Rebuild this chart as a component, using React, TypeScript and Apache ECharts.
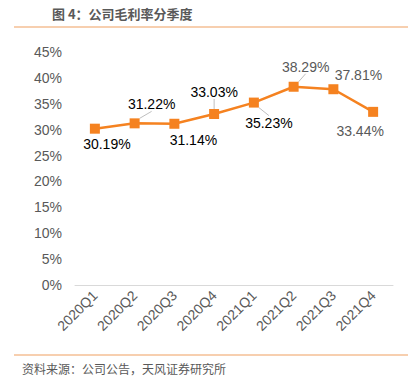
import React, { useEffect, useRef } from "react";
import * as echarts from "echarts";

const categories = ["2020Q1", "2020Q2", "2020Q3", "2020Q4", "2021Q1", "2021Q2", "2021Q3", "2021Q4"];
const grossMargin = [30.19, 31.22, 31.14, 33.03, 35.23, 38.29, 37.81, 33.44];
const yTicks = [0, 5, 10, 15, 20, 25, 30, 35, 40, 45];
const titleText = "图 4：公司毛利率分季度";
const sourceText = "资料来源：公司公告，天风证券研究所";

// label offsets (dx, dy) from each point
const labelOffsets: [number, number][] = [
  [12, 15], [17, -19], [19, 16], [0, -22], [15, 20], [12, -20], [25, -14], [-13, 19],
];
const labelColors = ["#000", "#000", "#000", "#000", "#000", "#595959", "#595959", "#595959"];
const showLeader = [false, true, false, true, true, true, false, false];

export default function App() {
  const ref = useRef<HTMLDivElement>(null);
  useEffect(() => {
    if (!ref.current) return;
    const chart = echarts.init(ref.current, null, { renderer: "svg" });
    chart.setOption({
      animation: false,
      backgroundColor: "#fff",
      graphic: [
        { type: "text", left: 52, top: 7, style: { text: titleText, font: "bold 13px 'Noto Sans CJK SC', sans-serif", fill: "#595959" } },
        { type: "line", shape: { x1: 14, y1: 27, x2: 408, y2: 27 }, style: { stroke: "#F0A060", lineWidth: 1.2 } },
        { type: "line", shape: { x1: 14, y1: 355, x2: 408, y2: 355 }, style: { stroke: "#F0A060", lineWidth: 1.2 } },
        { type: "text", left: 22, top: 362, style: { text: sourceText, font: "12px 'Noto Sans CJK SC', sans-serif", fill: "#595959" } },
      ],
      grid: { left: 75, right: 27, top: 52, bottom: 98, containLabel: false },
      xAxis: {
        type: "category",
        data: categories,
        axisLine: { lineStyle: { color: "#d9d9d9", width: 1 } },
        axisTick: { show: false },
        axisLabel: { rotate: 45, color: "#595959", fontSize: 14, fontFamily: "Liberation Sans, Arial, sans-serif", margin: 8 },
      },
      yAxis: {
        type: "value",
        min: yTicks[0],
        max: yTicks[yTicks.length - 1],
        interval: 5,
        axisLine: { show: false },
        axisTick: { show: false },
        splitLine: { show: false },
        axisLabel: { color: "#595959", fontSize: 14, fontFamily: "Liberation Sans, Arial, sans-serif", margin: 13, formatter: "{value}%" },
      },
      series: [
        {
          type: "line",
          data: grossMargin.map((v, i) => ({
            value: v,
            label: { color: labelColors[i] },
            labelLine: { show: showLeader[i] },
          })),
          symbol: "rect",
          symbolSize: 10,
          lineStyle: { color: "#F58220", width: 2.5 },
          itemStyle: { color: "#F58220" },
          label: {
            show: true,
            position: "inside",
            fontSize: 14,
            fontFamily: "Liberation Sans, Arial, sans-serif",
            formatter: (p: any) => p.value.toFixed(2) + "%",
          },
          labelLine: { show: true, length2: 0, lineStyle: { color: "#bfbfbf", width: 1 } },
          labelLayout: (p: any) => ({ dx: labelOffsets[p.dataIndex][0], dy: labelOffsets[p.dataIndex][1] }),
        },
      ],
    });
    return () => chart.dispose();
  }, []);
  return <div ref={ref} style={{ position: "absolute", left: 0, top: 0, width: 420, height: 383 }} />;
}
